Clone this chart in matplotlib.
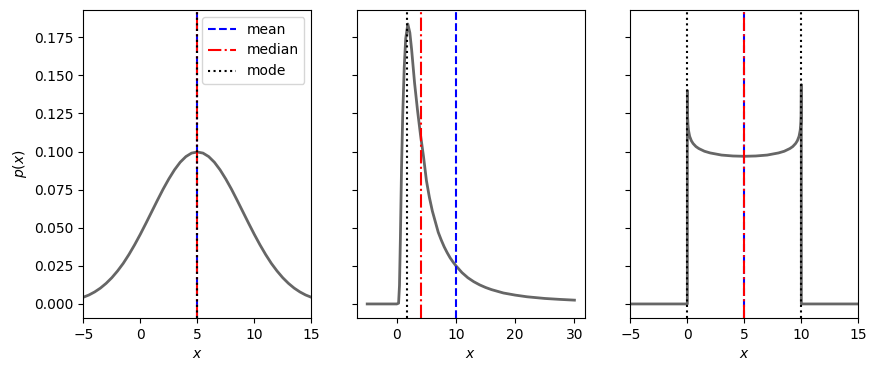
import numpy as np
import matplotlib
matplotlib.use("Agg")
import matplotlib.pyplot as plt

# panel 1: symmetric bell curve
x_norm = [-5, -4.5, -4, -3.5, -3, -2.5, -2, -1.5, -1, -0.5, 0, 0.5, 1, 1.5, 2, 2.5, 3, 3.5, 4, 4.5, 5,
          5.5, 6, 6.5, 7, 7.5, 8, 8.5, 9, 9.5, 10, 10.5, 11, 11.5, 12, 12.5, 13, 13.5, 14, 14.5, 15]
p_norm = [0.0044, 0.0059, 0.0079, 0.0104, 0.0135, 0.0172, 0.0216, 0.0266, 0.0324, 0.0388, 0.0457,
          0.0530, 0.0605, 0.0680, 0.0753, 0.0820, 0.0880, 0.0930, 0.0967, 0.0990, 0.0997,
          0.0990, 0.0967, 0.0930, 0.0880, 0.0820, 0.0753, 0.0680, 0.0605, 0.0530, 0.0457,
          0.0388, 0.0324, 0.0266, 0.0216, 0.0172, 0.0135, 0.0104, 0.0079, 0.0059, 0.0044]

# panel 2: right-skewed curve
x_skew = [-5, 0, 0.3, 0.45, 0.6, 0.8, 1.0, 1.25, 1.5, 1.86, 2.2, 2.5, 3.0, 3.5, 4.0, 4.5, 5.0, 5.5,
          6.0, 6.5, 7.0, 7.5, 8.0, 8.5, 9.0, 9.5, 10.0, 11.0, 12.0, 13.0, 14.0, 15.0, 16.0, 18.0,
          20.0, 22.0, 25.0, 27.5, 30.0]
p_skew = [0, 0, 0.0005, 0.012, 0.042, 0.090, 0.124, 0.155, 0.174, 0.1837, 0.178, 0.167, 0.145,
          0.127, 0.111, 0.097, 0.081, 0.070, 0.061, 0.054, 0.047, 0.042, 0.0375, 0.0337, 0.0303,
          0.0275, 0.025, 0.0206, 0.0172, 0.0146, 0.0125, 0.0108, 0.0094, 0.0072,
          0.0058, 0.0047, 0.0036, 0.0030, 0.0025]

# panel 3: U-shaped curve on [0, 10]
x_u = [-5, -0.001, 0.001, 0.02, 0.05, 0.1, 0.2, 0.35, 0.5, 0.75, 1, 1.5, 2, 3, 4, 5, 6, 7, 8,
       8.5, 9, 9.25, 9.5, 9.65, 9.8, 9.9, 9.95, 9.98, 9.999, 10.001, 15]
p_u = [0, 0, 0.140, 0.1234, 0.1178, 0.1139, 0.1100, 0.1071, 0.1053, 0.1033, 0.1020, 0.1002,
       0.0991, 0.0977, 0.0971, 0.0969, 0.0971, 0.0977, 0.0991, 0.1002, 0.1020, 0.1033, 0.1053,
       0.1071, 0.1100, 0.1139, 0.1178, 0.1234, 0.144, 0, 0]

# mean, median, mode for each panel
means = [5, 10, 5]
medians = [5, 4.17, 5]
modes = [[5], [1.75], [0, 10]]

fig, axes = plt.subplots(1, 3, sharey=True, figsize=(8.77, 3.71), dpi=100)
fig.subplots_adjust(left=0.095, right=0.9787, top=0.973, bottom=0.143, wspace=0.2)

curves = [(x_norm, p_norm), (x_skew, p_skew), (x_u, p_u)]
for i, ax in enumerate(axes):
    xs, ps = curves[i]
    ax.plot(xs, ps, color="k", lw=2, alpha=0.6)
    ax.axvline(means[i], color="b", ls="--", lw=1.5, label="mean")
    ax.axvline(medians[i], color="r", ls="-.", lw=1.5, label="median")
    for j, m in enumerate(modes[i]):
        ax.axvline(m, color="k", ls=":", lw=1.5, label="mode" if j == 0 else None)
    ax.set_xlabel("$x$")

axes[0].set_xlim(-5, 15)
axes[2].set_xlim(-5, 15)
axes[0].set_ylabel("$p(x)$")
axes[0].legend(loc="upper right")

fig.savefig("out.png")
